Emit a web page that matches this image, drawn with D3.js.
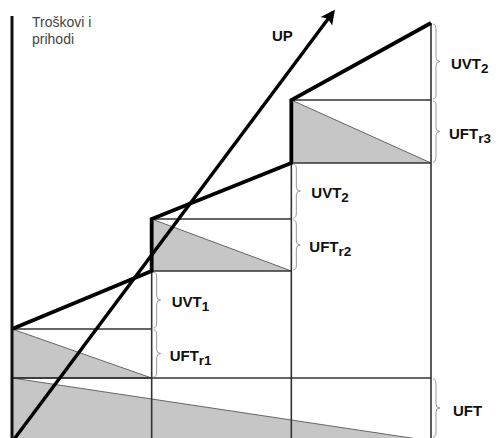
<!DOCTYPE html>
<html>
<head>
<meta charset="utf-8">
<script src="https://cdn.jsdelivr.net/npm/d3@7"></script>
<style>
  body { margin: 0; background: #fff; }
  svg { display: block; font-family: Arial, "Liberation Sans", sans-serif; }
  .lbl { font-weight: bold; font-size: 15px; fill: #111; }
  .axis-title { font-size: 14px; fill: #444; }
</style>
</head>
<body>
<div id="chart"></div>
<script>
// section boundaries (quantity steps)
const steps = [0, 1, 2, 3];
// fixed cost base (UFT) and where its shaded share ends at the last step
const uft = 60;
const uftEnd = -3;
// each section: bottom of step fixed cost, top of step fixed cost, total cost at section end
const stepBottom = [60, 167, 275];
const stepTop = [109, 219, 338];
const totalEnd = [167, 275, 415];
// revenue line (UP)
const revenue = [{ q: 0, v: -4 }, { q: 2.3, v: 426 }];
// brace labels
const uvtLabels = [['UVT', '1'], ['UVT', '2'], ['UVT', '2']];
const uftrLabels = [['UFT', 'r1'], ['UFT', 'r2'], ['UFT', 'r3']];
const axisTitle = ['Troškovi i', 'prihodi'];

const width = 498, height = 438;
const svg = d3.select('#chart').append('svg')
  .attr('width', width)
  .attr('height', height);

const x = d3.scaleLinear().domain([0, 3]).range([12, 431]);
const y = d3.scaleLinear().domain([0, 420]).range([438, 18]);

const line = d3.line().x(d => x(d[0])).y(d => y(d[1]));
const gray = '#c6c6c6';

// fixed cost shading
svg.append('path')
  .attr('d', line([[0, uft], [3, uftEnd], [0, uftEnd]]) + 'Z')
  .attr('fill', gray);
svg.append('path')
  .attr('d', line([[0, uft], [3, uftEnd]]))
  .attr('fill', 'none')
  .attr('stroke', '#666')
  .attr('stroke-width', 1);

// step fixed cost triangles
stepBottom.forEach((b, i) => {
  const q0 = steps[i], q1 = steps[i + 1];
  svg.append('path')
    .attr('d', line([[q0, stepTop[i]], [q1, b], [q0, b]]) + 'Z')
    .attr('fill', gray);
  svg.append('path')
    .attr('d', line([[q0, stepTop[i]], [q1, b]]))
    .attr('fill', 'none')
    .attr('stroke', '#666')
    .attr('stroke-width', 1);
});

const thin = svg.append('g')
  .attr('stroke', '#333')
  .attr('stroke-width', 1.6)
  .attr('fill', 'none');

// horizontal lines
thin.append('path').attr('d', line([[0, uft], [3, uft]]));
stepBottom.forEach((b, i) => {
  const q0 = steps[i], q1 = steps[i + 1];
  thin.append('path').attr('d', line([[q0, stepTop[i]], [q1, stepTop[i]]]));
  thin.append('path').attr('d', line([[q0, b], [q1, b]]));
});
// vertical lines
[1, 2, 3].forEach((q, i) => {
  const top = i < 2 ? stepTop[i + 1] : totalEnd[2];
  thin.append('path').attr('d', line([[q, y.invert(height)], [q, top]]));
});

// braces
const brace = (px, y0, y1) => {
  const m = (y0 + y1) / 2, w = 3;
  return `M${px},${y0} Q${px + w},${y0} ${px + w},${y0 + 5} L${px + w},${m - 4}` +
    ` Q${px + w},${m} ${px + w + 4},${m} Q${px + w},${m} ${px + w},${m + 4}` +
    ` L${px + w},${y1 - 5} Q${px + w},${y1} ${px},${y1}`;
};
const braceG = svg.append('g')
  .attr('stroke', '#999')
  .attr('stroke-width', 1)
  .attr('fill', 'none');

const label = (px, py, main, sub) => {
  const t = svg.append('text').attr('class', 'lbl').attr('x', px).attr('y', py);
  t.append('tspan').text(main);
  if (sub) t.append('tspan').attr('dy', 4).attr('font-size', '13.5px').text(sub);
};

stepBottom.forEach((b, i) => {
  const px = x(steps[i + 1]) + 2;
  const u0 = y(totalEnd[i]), u1 = y(stepTop[i]), f1 = y(b);
  braceG.append('path').attr('d', brace(px, u0 + 1, u1 - 1));
  braceG.append('path').attr('d', brace(px, u1 + 1, f1 - 1));
  label(px + 18, (u0 + u1) / 2 + 7, uvtLabels[i][0], uvtLabels[i][1]);
  label(px + 16, (u1 + f1) / 2 + 7, uftrLabels[i][0], uftrLabels[i][1]);
});
// UFT brace
braceG.append('path').attr('d', brace(x(3) + 2, y(uft) + 1, y(0) - 1));
label(x(3) + 22, (y(uft) + y(0)) / 2 + 8, 'UFT');

// total cost line
const total = [[0, stepTop[0]]];
stepBottom.forEach((b, i) => {
  total.push([steps[i + 1], totalEnd[i]]);
  if (i < 2) total.push([steps[i + 1], stepTop[i + 1]]);
});
svg.append('path')
  .attr('d', line(total))
  .attr('fill', 'none')
  .attr('stroke', '#000')
  .attr('stroke-width', 3.8)
  .attr('stroke-linejoin', 'miter');

// revenue arrow
svg.append('defs').append('marker')
  .attr('id', 'arrow')
  .attr('viewBox', '0 0 10 10')
  .attr('refX', 8).attr('refY', 5)
  .attr('markerWidth', 5.5).attr('markerHeight', 4.2)
  .attr('markerUnits', 'strokeWidth')
  .attr('orient', 'auto')
  .append('path')
  .attr('d', 'M0,0 L10,5 L0,10 L2,5 Z')
  .attr('fill', '#000');

svg.append('path')
  .attr('d', line(revenue.map(d => [d.q, d.v])))
  .attr('fill', 'none')
  .attr('stroke', '#000')
  .attr('stroke-width', 3.4)
  .attr('marker-end', 'url(#arrow)');

label(272, 41, 'UP');

// y axis
svg.append('line')
  .attr('x1', x(0)).attr('x2', x(0))
  .attr('y1', 16).attr('y2', height)
  .attr('stroke', '#111')
  .attr('stroke-width', 3);

svg.append('text')
  .attr('class', 'axis-title')
  .selectAll('tspan')
  .data(axisTitle)
  .join('tspan')
  .attr('x', 32)
  .attr('y', (d, i) => 27 + i * 17)
  .text(d => d);
</script>
</body>
</html>
